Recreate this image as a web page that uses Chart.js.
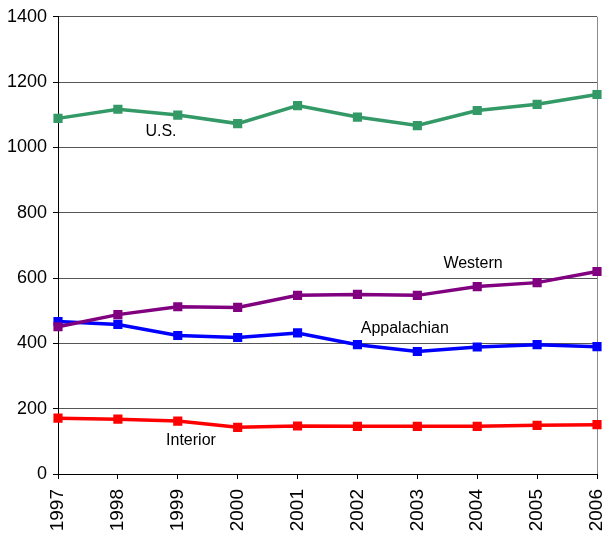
<!DOCTYPE html>
<html>
<head>
<meta charset="utf-8">
<script src="https://cdn.jsdelivr.net/npm/chart.js@4/dist/chart.umd.min.js"></script>
<style>
  html, body { margin: 0; padding: 0; background: #fff; }
  #wrap { width: 607px; height: 537px; }
</style>
</head>
<body>
<div id="wrap"><canvas id="coalChart" width="607" height="537"></canvas></div>
<script>
// Chart data
const years = ['1997', '1998', '1999', '2000', '2001', '2002', '2003', '2004', '2005', '2006'];
const usValues = [1089, 1117, 1099, 1073, 1128, 1093, 1067, 1113, 1132, 1162];
const westernValues = [451, 488, 512, 510, 547, 550, 547, 574, 586, 620];
const appalachianValues = [467, 458, 424, 418, 432, 396, 375, 389, 396, 390];
const interiorValues = [171, 168, 162, 143, 147, 146, 146, 146, 149, 151];
const yTicks = [0, 200, 400, 600, 800, 1000, 1200, 1400];

// Series name labels placed inside the plot (category index, value)
const seriesLabels = [
    { text: 'U.S.', x: 1.72, y: 1049 },
    { text: 'Western', x: 6.93, y: 643 },
    { text: 'Appalachian', x: 5.79, y: 445 },
    { text: 'Interior', x: 2.22, y: 101 }
];

const labelPlugin = {
    id: 'seriesLabels',
    afterDatasetsDraw(chart) {
        const ctx = chart.ctx;
        const xs = chart.scales.x;
        const ys = chart.scales.y;
        ctx.save();
        ctx.font = '16px "Liberation Sans", Arial, sans-serif';
        ctx.fillStyle = '#000';
        ctx.textAlign = 'center';
        ctx.textBaseline = 'middle';
        seriesLabels.forEach(l => {
            const px = xs.left + (xs.right - xs.left) * l.x / (years.length - 1);
            ctx.fillText(l.text, px, ys.getPixelForValue(l.y));
        });
        ctx.restore();
    }
};

function makeSeries(label, data, color) {
    return {
        label: label,
        data: data,
        borderColor: color,
        backgroundColor: color,
        borderWidth: 3.5,
        pointStyle: 'rect',
        pointRadius: 4,
        pointHoverRadius: 4,
        tension: 0,
        fill: false
    };
}

new Chart(document.getElementById('coalChart'), {
    type: 'line',
    data: {
        labels: years,
        datasets: [
            makeSeries('U.S.', usValues, '#339966'),
            makeSeries('Western', westernValues, '#800080'),
            makeSeries('Appalachian', appalachianValues, '#0000ff'),
            makeSeries('Interior', interiorValues, '#ff0000')
        ]
    },
    options: {
        responsive: false,
        animation: false,
        layout: { padding: { top: 15, right: 10, left: 0, bottom: 0 } },
        plugins: {
            legend: { display: false },
            tooltip: { enabled: false }
        },
        scales: {
            x: {
                offset: false,
                afterFit: axis => {
                    axis.height = 63;
                    axis.paddingLeft = 0;
                    axis.paddingRight = 0;
                },
                grid: {
                    drawOnChartArea: true,
                    color: ctx => ctx.index === years.length - 1 ? '#8c8c8c' : 'rgba(0,0,0,0)',
                    tickColor: '#000',
                    tickLength: 5
                },
                border: { color: '#000', width: 1 },
                ticks: {
                    color: '#000',
                    font: { family: '"Liberation Sans", Arial, sans-serif', size: 19 },
                    minRotation: 90,
                    maxRotation: 90,
                    padding: 10,
                    autoSkip: false
                }
            },
            y: {
                min: 0,
                max: 1400,
                afterFit: axis => { axis.width = 58; },
                afterBuildTicks: axis => { axis.ticks = yTicks.map(v => ({ value: v })); },
                grid: {
                    color: '#555',
                    tickColor: '#000',
                    tickLength: 5
                },
                border: { color: '#000', width: 1 },
                ticks: {
                    color: '#000',
                    font: { family: '"Liberation Sans", Arial, sans-serif', size: 18 },
                    padding: 6,
                    callback: v => String(v)
                }
            }
        }
    },
    plugins: [labelPlugin]
});
</script>
</body>
</html>
